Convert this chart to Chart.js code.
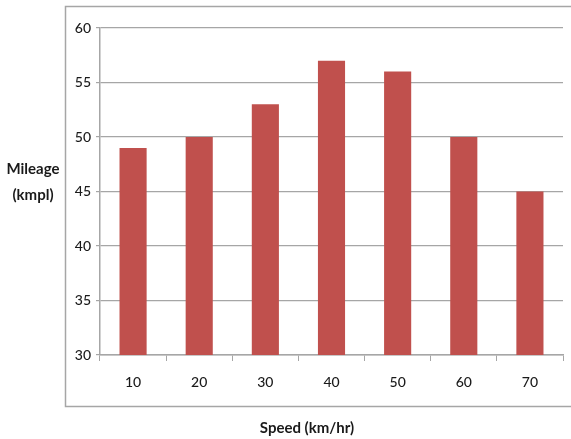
<!DOCTYPE html>
<html>
<head>
<meta charset="utf-8">
<script src="https://cdn.jsdelivr.net/npm/chart.js@4"></script>
<style>
  html, body { margin: 0; padding: 0; background: #fff; }
  #wrap { width: 571px; height: 439px; }
</style>
</head>
<body>
<div id="wrap"><canvas id="mileageChart" width="571" height="439"></canvas></div>
<script>
const speeds = ["10", "20", "30", "40", "50", "60", "70"];
const mileage = [49, 50, 53, 57, 56, 50, 45];
const yTitle = ["Mileage", "(kmpl)"];
const xTitle = "Speed (km/hr)";

const FONT = "Lato, 'Open Sans', sans-serif";

// frame around the plot + axis titles, excel style
const decorations = {
  id: "decorations",
  beforeDraw(chart) {
    const ctx = chart.ctx;
    ctx.save();
    ctx.fillStyle = "#fff";
    ctx.fillRect(0, 0, chart.width, chart.height);
    ctx.strokeStyle = "#a6a6a6";
    ctx.lineWidth = 1.5;
    ctx.strokeRect(65.5, 6.5, 520, 400);
    ctx.restore();
  },
  afterDraw(chart) {
    const ctx = chart.ctx;
    ctx.save();
    ctx.fillStyle = "#1a1a1a";
    ctx.font = "bold 15px " + FONT;
    ctx.textAlign = "center";
    ctx.textBaseline = "middle";
    ctx.fillText(yTitle[0], 33, 169);
    ctx.fillText(yTitle[1], 33, 195);
    ctx.fillText(xTitle, 307, 428);
    ctx.restore();
  },
};

const config = {
  type: "bar",
  data: {
    labels: speeds,
    datasets: [
      {
        label: "Mileage",
        data: mileage,
        backgroundColor: "#c0504d",
        categoryPercentage: 1,
        barPercentage: 0.41,
      },
    ],
  },
  options: {
    responsive: false,
    animation: false,
    layout: { padding: { left: 65, right: 8, top: 28, bottom: 0 } },
    plugins: { legend: { display: false }, tooltip: { enabled: false } },
    scales: {
      x: {
        grid: {
          offset: true,
          drawOnChartArea: false,
          tickLength: 6,
          color: "#a6a6a6",
        },
        border: { color: "#a6a6a6", width: 1.5 },
        ticks: { color: "#1a1a1a", font: { family: FONT, size: 14, weight: "500" }, padding: 13 },
        afterFit(scale) {
          scale.height = 84;
        },
      },
      y: {
        min: 30,
        max: 60,
        ticks: {
          stepSize: 5,
          color: "#1a1a1a",
          font: { family: FONT, size: 14, weight: "500" },
          padding: 5,
        },
        grid: { color: "#a6a6a6", lineWidth: 1.2, tickLength: 4 },
        border: { color: "#a6a6a6", width: 1.5 },
        afterFit(scale) {
          scale.width = 35;
        },
      },
    },
  },
  plugins: [decorations],
};

const myChart = new Chart(document.getElementById("mileageChart"), config);
</script>
</body>
</html>
